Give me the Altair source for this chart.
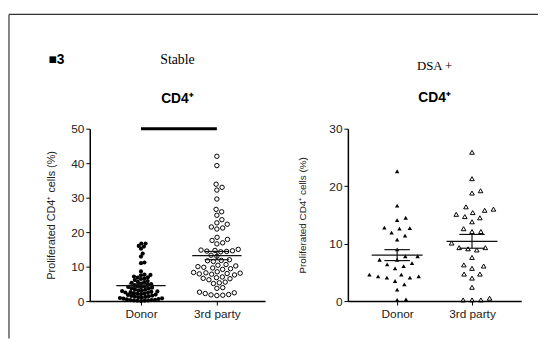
import math
import altair as alt
import pandas as pd

# ---------------- data ----------------
CATEGORIES = ["Donor", "3rd party"]
PANEL_TITLES = ["Stable", "DSA +"]
SUBTITLE = "CD4⁺"
Y_TITLE = "Proliferated CD4⁺ cells (%)"
FIG_LABEL = "■3"

stable_donor = [16.7, 16.7, 16.0, 15.8, 15.2, 13.8, 12.9, 11.2, 11.0, 8.6,
                7.7, 7.6, 7.5, 7.1, 6.9, 6.8, 6.6, 6.4, 6.1, 5.8, 5.6, 5.5, 5.3, 5.1,
                4.9, 4.7, 4.6, 4.4, 4.3, 4.1, 4.0, 3.9, 3.7, 3.6, 3.4, 3.3, 3.1, 3.0,
                2.9, 2.8, 2.7, 2.6, 2.5, 2.4, 2.3, 2.2, 2.1, 2.0, 1.9, 1.8, 1.6, 1.5,
                1.4, 1.3, 1.2, 1.1, 1.0, 0.9, 0.8, 0.7, 0.6, 0.5, 0.4, 0.3, 0.3, 0.2,
                0.2, 0.1, 0.1, 0.0]
stable_third = [42.0, 39.3, 33.9, 33.0, 32.2, 29.6, 26.6, 25.9, 24.9, 23.6,
                22.7, 22.3, 21.5, 21.2, 20.9, 18.5, 17.9, 17.6, 16.9, 16.6,
                15.0, 14.8, 14.7, 14.6, 14.5, 14.4, 14.3, 13.3, 13.0, 12.0,
                11.8, 11.7, 11.5, 10.6, 10.4, 10.2, 10.0, 9.8, 9.6, 9.4,
                9.2, 8.5, 8.3, 8.2, 8.1, 8.0, 7.9, 7.8, 7.6, 7.0,
                6.8, 6.6, 6.5, 6.2, 5.5, 5.3, 5.1, 3.9, 3.7, 2.6,
                2.4, 2.2, 1.9, 1.8, 1.7, 1.6]
dsa_donor = [22.6, 16.6, 14.5, 14.1, 12.6, 12.8, 12.7, 11.9, 11.4, 10.7, 9.0,
             7.8, 7.8, 7.2, 7.2, 6.4, 6.6, 6.1, 5.7, 4.1, 4.3, 4.6, 4.3, 4.6, 4.1,
             3.5, 2.9, 2.0, 0.2, 0.3]
dsa_third = [25.9, 21.3, 18.8, 19.2, 15.4, 16.0, 16.4, 15.8, 14.7, 15.1, 14.5,
             13.8, 12.1, 12.1, 12.6, 10.1, 9.3, 9.3, 9.1, 8.9, 7.6, 5.7, 6.1, 6.3,
             4.7, 4.7, 4.0, 2.4, 0.2, 0.5, 0.2, 0.2]

stable_mean = [4.5, 13.2]
stable_sem = [0.5, 1.2]
dsa_mean = [8.0, 10.4]
dsa_sem = [0.95, 1.2]

stable_ticks = [0, 10, 20, 30, 40, 50]
dsa_ticks = [0, 10, 20, 30]
stable_sig = [0, 1, 50]  # from group, to group, at y

FONT = "Liberation Sans"
SERIF = "Liberation Serif"


def beeswarm(values, d, ypx, xpx):
    """Horizontal offsets (in x units) so that markers of diameter d px don't overlap."""
    order = sorted(range(len(values)), key=lambda i: values[i])
    placed = []
    offs = [0.0] * len(values)
    for i in order:
        y = values[i] * ypx
        cands = [0.0]
        for px, py in placed:
            dy = abs(y - py)
            if dy < d:
                dx = math.sqrt(d * d - dy * dy)
                cands += [px + dx, px - dx]
        cands.sort(key=lambda c: (abs(c), -c))
        for c in cands:
            if all((c - px) ** 2 + (y - py) ** 2 >= d * d - 1e-6 for px, py in placed):
                break
        placed.append((c, y))
        offs[i] = c / xpx
    return offs


def panel(donor, third, means, sems, ticks, title, width, height, xdom, dfill, dopen,
          shape, size_f, size_o, mean_hw, sem_hw, ytitle_size, ytitle_pad,
          title_y, sub_y, title_size, sig=None, extra=None):
    ymax = ticks[-1]
    ypx = height / ymax
    xpx = width / (xdom[1] - xdom[0])
    off_d = beeswarm(donor, dfill, ypx, xpx)
    off_t = beeswarm(third, dopen, ypx, xpx)
    pts = pd.DataFrame({
        "x": [0 + o for o in off_d] + [1 + o for o in off_t],
        "value": donor + third,
        "group": [CATEGORIES[0]] * len(donor) + [CATEGORIES[1]] * len(third),
    })
    stats = pd.DataFrame({"pos": [0, 1], "mean": means, "sem": sems})

    label_expr = "[" + ",".join("'" + c + "'" for c in CATEGORIES) + "][datum.value]"
    xscale = alt.Scale(domain=xdom, nice=False, zero=False)
    yscale = alt.Scale(domain=[0, ymax], nice=False)
    xaxis = alt.Axis(values=[0, 1], labelExpr=label_expr, title=None,
                     grid=False, domainColor="black", domainWidth=1.5,
                     tickColor="black", tickWidth=1, tickSize=4,
                     labelFont=FONT, labelFontSize=12, labelColor="#222",
                     labelPadding=4, labelOverlap=False)
    yaxis = alt.Axis(values=ticks, title=Y_TITLE, grid=False,
                     domainColor="black", domainWidth=1.5,
                     tickColor="black", tickWidth=1, tickSize=4,
                     labelFont=FONT, labelFontSize=12, labelColor="#222",
                     labelPadding=2, labelOverlap=False,
                     titleFont=FONT, titleFontSize=ytitle_size,
                     titleFontWeight="normal", titleColor="#222",
                     titlePadding=ytitle_pad)

    def X(f):
        return alt.X(f, scale=xscale, axis=xaxis)

    def Y(f):
        return alt.Y(f, scale=yscale, axis=yaxis)

    base = alt.Chart(pts)
    filled = base.transform_filter(alt.datum.group == CATEGORIES[0]).mark_point(
        shape=shape, filled=True, color="black", size=size_f, opacity=1
    ).encode(x=X("x:Q"), y=Y("value:Q"))
    opened = base.transform_filter(alt.datum.group == CATEGORIES[1]).mark_point(
        shape=shape, filled=False, color="black", size=size_o, strokeWidth=1, opacity=1
    ).encode(x=X("x:Q"), y=Y("value:Q"))

    sbase = alt.Chart(stats).transform_calculate(
        lo="datum.mean - datum.sem", hi="datum.mean + datum.sem",
        mx0=f"datum.pos - {mean_hw}", mx1=f"datum.pos + {mean_hw}",
        sx0=f"datum.pos - {sem_hw}", sx1=f"datum.pos + {sem_hw}",
    )
    mean_rule = sbase.mark_rule(color="#111", strokeWidth=1.3).encode(
        x=X("mx0:Q"), x2="mx1:Q", y=Y("mean:Q"))
    sem_hi = sbase.mark_rule(color="#111", strokeWidth=1.2).encode(
        x=X("sx0:Q"), x2="sx1:Q", y=Y("hi:Q"))
    sem_lo = sbase.mark_rule(color="#111", strokeWidth=1.2).encode(
        x=X("sx0:Q"), x2="sx1:Q", y=Y("lo:Q"))
    sem_v = sbase.mark_rule(color="#111", strokeWidth=1.2).encode(
        x=X("pos:Q"), y=Y("lo:Q"), y2="hi:Q")

    tdf = pd.DataFrame({"t": [title]})
    sdf = pd.DataFrame({"t": [SUBTITLE]})
    title_mark = alt.Chart(tdf).mark_text(
        font=SERIF, fontSize=title_size, color="black", align="center",
        baseline="middle").encode(x=alt.value(width / 2), y=alt.value(title_y), text="t:N")
    sub_mark = alt.Chart(sdf).mark_text(
        font=FONT, fontSize=14, fontWeight="bold", color="black", align="center",
        baseline="middle").encode(x=alt.value(width / 2), y=alt.value(sub_y), text="t:N")

    layers = [filled, opened, mean_rule, sem_hi, sem_lo, sem_v, title_mark, sub_mark]
    if sig is not None:
        sig_df = pd.DataFrame({"x0": [sig[0]], "x1": [sig[1]], "y": [sig[2]]})
        layers.append(alt.Chart(sig_df).mark_rule(color="black", strokeWidth=3).encode(
            x=X("x0:Q"), x2="x1:Q", y=Y("y:Q")))
    if extra:
        layers += extra
    return alt.layer(*layers).properties(width=width, height=height)


# figure frame and label
one = pd.DataFrame({"t": [FIG_LABEL]})
frame_v = alt.Chart(one).mark_rule(color="#333", strokeWidth=1.2).encode(
    x=alt.value(-82), y=alt.value(-116), y2=alt.value(213))
frame_h = alt.Chart(one).mark_rule(color="#333", strokeWidth=1.2).encode(
    x=alt.value(-82), x2=alt.value(455), y=alt.value(-116))
fig_label = alt.Chart(one).mark_text(
    font=FONT, fontSize=14, fontWeight="bold", color="black", align="left",
    baseline="middle").encode(x=alt.value(-42), y=alt.value(-70), text="t:N")

left = panel(stable_donor, stable_third, stable_mean, stable_sem, stable_ticks,
             PANEL_TITLES[0], 178, 175, [-0.675, 1.636], 3.6, 6.0, "circle",
             18, 20, 0.325, 0.16, 11, 14, -70, -30, 14, sig=stable_sig,
             extra=[frame_v, frame_h, fig_label])
right = panel(dsa_donor, dsa_third, dsa_mean, dsa_sem, dsa_ticks,
              PANEL_TITLES[1], 176, 175, [-0.658, 1.658], 9.0, 9.0, "triangle-up",
              20, 22, 0.34, 0.17, 10, 22, -64, -31, 13)

chart = alt.hconcat(left, right, spacing=84, bounds="flush").properties(
    padding={"left": 0, "top": 3, "right": 0, "bottom": 0},
    background="white",
).configure_view(stroke=None)

chart.save("out.html", embed_options={"renderer": "svg", "actions": False})
